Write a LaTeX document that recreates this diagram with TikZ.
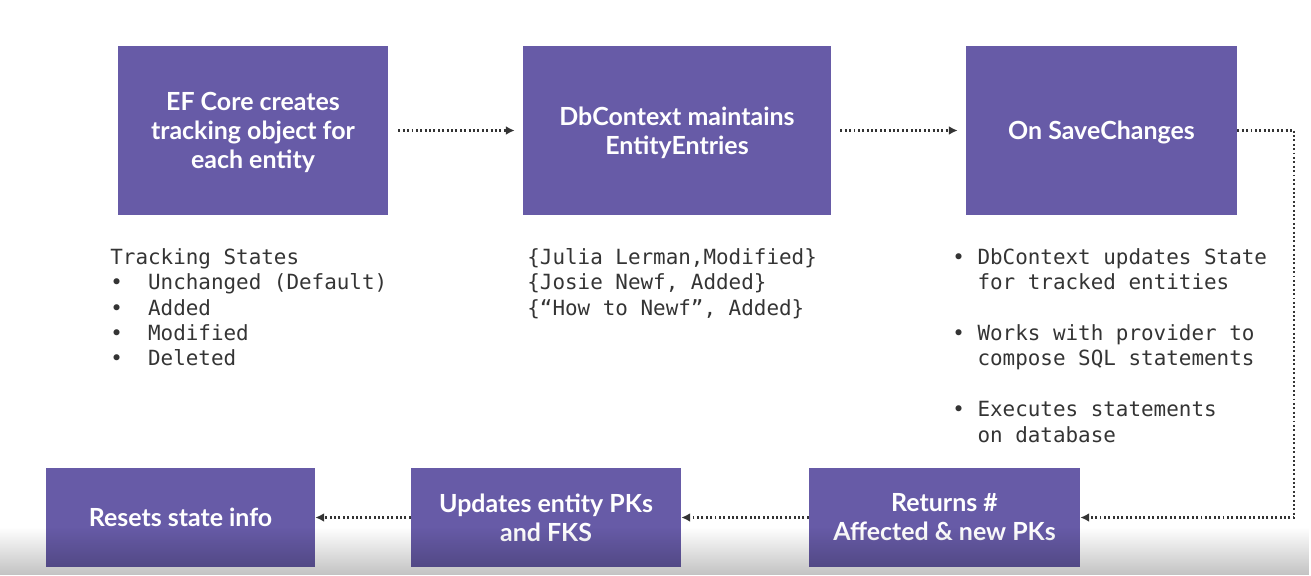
\documentclass[tikz,border=0pt]{standalone}
\usepackage{fontspec}
\setsansfont{Lato}
\setmonofont{DejaVu Sans Mono}
\usetikzlibrary{arrows.meta,fadings}
\definecolor{boxpurple}{RGB}{103,91,167}
\definecolor{inkgray}{RGB}{52,52,52}
\tikzset{
  stage/.style = {
    fill=boxpurple, text=white, align=center, inner sep=0pt,
    font=\sffamily\bfseries\fontsize{14.2}{16.5}\selectfont
  },
  listing/.style = {
    text=inkgray, align=left, inner sep=0pt, anchor=north west,
    font=\ttfamily\fontsize{11.9}{14.46}\selectfont
  },
  flow/.style = {
    inkgray, line width=1.3pt, dash pattern=on 1.1pt off 1.4pt,
    -{Latex[length=5pt,width=5pt]}
  }
}
\tikzfading[name=fadedown, top color=transparent!100, bottom color=transparent!0]

\begin{document}
\begin{tikzpicture}[x=0.02cm,y=-0.02cm]
    \useasboundingbox (0,0) rectangle (1311,575);
    % top row
    \node[stage, minimum width=5.4cm, minimum height=3.38cm] (ef) at (253,130.5)
      {\\[-0.12cm]EF Core creates\\tracking object for\\each entity};
    \node[stage, minimum width=6.16cm, minimum height=3.38cm] (ctx) at (677,130.5)
      {\\[-0.12cm]DbContext maintains\\EntityEntries};
    \node[stage, minimum width=5.42cm, minimum height=3.38cm] (save) at (1101.5,130.5)
      {\\[-0.12cm]On SaveChanges};
    % bottom row
    \node[stage, minimum width=5.38cm, minimum height=1.98cm] (reset) at (180.5,517.5)
      {Resets state info};
    \node[stage, minimum width=5.4cm, minimum height=1.98cm] (pks) at (546,517.5)
      {Updates entity PKs\\and FKS};
    \node[stage, minimum width=5.42cm, minimum height=1.98cm] (returns) at (944.5,517.5)
      {Returns \#\\Affected \& new PKs};
    % notes
    \node[listing] (states) at (110,248)
      {Tracking States\\•\ \ Unchanged (Default)\\•\ \ Added\\•\ \ Modified\\•\ \ Deleted};
    \node[listing] (entries) at (527,248)
      {\{Julia Lerman,Modified\}\\\{Josie Newf, Added\}\\\{“How to Newf”, Added\}};
    \node[listing] (steps) at (952,248)
      {• DbContext updates State\\\ \ for tracked entities\\[0.51cm]%
       • Works with provider to\\\ \ compose SQL statements\\[0.51cm]%
       • Executes statements\\\ \ on database};
    % connectors
    \draw[flow, shorten <=0.2cm, shorten >=0.16cm] (ef) -- (ctx);
    \draw[flow, shorten <=0.18cm, shorten >=0.16cm] (ctx) -- (save);
    \draw[flow] (save.east) -- ++(57,0) |- (returns.east);
    \draw[flow] (returns) -- (pks);
    \draw[flow] (pks) -- (reset);
    % screen shade
    \fill[black, opacity=0.24, path fading=fadedown] (0,527) rectangle (1311,575);
\end{tikzpicture}
\end{document}
